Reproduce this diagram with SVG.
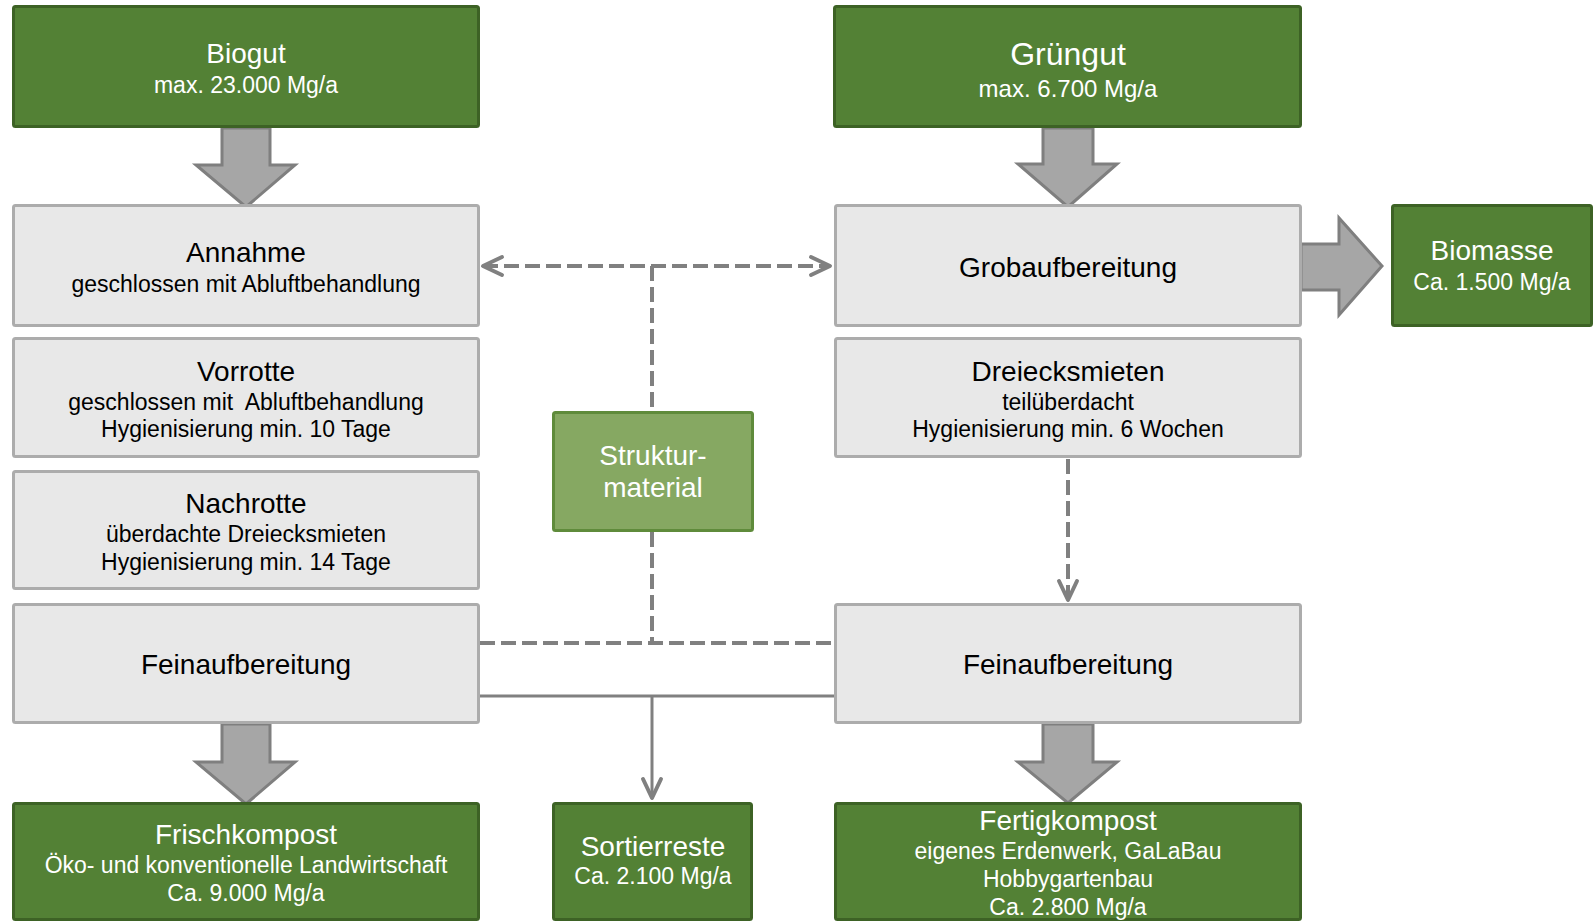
<svg xmlns="http://www.w3.org/2000/svg" width="1593" height="922" viewBox="0 0 1593 922">
<style>
.g{fill:#538135;stroke:#3d6225;stroke-width:3}
.l{fill:#86a862;stroke:#5f8b3b;stroke-width:3}
.p{fill:#e8e8e8;stroke:#acacac;stroke-width:3}
.big{fill:#a6a6a6;stroke:#7f7f7f;stroke-width:3;stroke-linejoin:miter}
text{font-family:"Liberation Sans",Arial,sans-serif;text-anchor:middle}
.w{fill:#ffffff}
.k{fill:#000000}
.t{font-size:28px}
.s{font-size:23px}
.dash{fill:none;stroke:#808080;stroke-width:4;stroke-dasharray:15 6}
.sol{fill:none;stroke:#808080;stroke-width:3}
</style>
<defs>
<marker id="ah" markerUnits="userSpaceOnUse" viewBox="-24 -12 28 24" refX="0" refY="0" markerWidth="28" markerHeight="24" orient="auto-start-reverse">
<path d="M-19 -9 L0 0 L-19 9" fill="none" stroke="#808080" stroke-width="4" stroke-linecap="round" stroke-linejoin="round"/>
</marker>
</defs>
<rect width="1593" height="922" fill="#ffffff"/>

<g id="connectors">
<polygon class="big" points="222,128 270,128 270,165 295,165 246,207 196,165 222,165"/>
<polygon class="big" points="1043,128 1093,128 1093,164 1117,164 1068,207 1018,164 1043,164"/>
<polygon class="big" points="222,724 270,724 270,762 295,762 246,804 196,762 222,762"/>
<polygon class="big" points="1043,724 1093,724 1093,762 1117,762 1068,803 1018,762 1043,762"/>
<polygon class="big" points="1301,244 1339,244 1339,218 1382,266 1339,315 1339,290 1301,290"/>
<path class="dash" d="M483 266 H830" marker-start="url(#ah)" marker-end="url(#ah)"/>
<path class="dash" d="M652 266 V411"/>
<path class="dash" d="M652 532 V643"/>
<path class="dash" d="M480 643 H834"/>
<path class="dash" d="M1068 459 V600" marker-end="url(#ah)"/>
<path class="sol" d="M480 696 H834"/>
<path class="sol" d="M652 696 V798" marker-end="url(#ah)"/>
</g>

<g id="biogut">
<rect class="g" x="13.5" y="6.5" width="465" height="120" rx="2"/>
<text class="w t" x="246" y="63">Biogut</text>
<text class="w s" x="246" y="93">max. 23.000 Mg/a</text>
</g>
<g id="gruengut">
<rect class="g" x="834.5" y="6.5" width="466" height="120" rx="2"/>
<text class="w" x="1068" y="65" font-size="32">Grüngut</text>
<text class="w" x="1068" y="97" font-size="24">max. 6.700 Mg/a</text>
</g>
<g id="annahme">
<rect class="p" x="13.5" y="205.5" width="465" height="120" rx="2"/>
<text class="k t" x="246" y="262">Annahme</text>
<text class="k s" x="246" y="292">geschlossen mit Abluftbehandlung</text>
</g>
<g id="vorrotte">
<rect class="p" x="13.5" y="338.5" width="465" height="118" rx="2"/>
<text class="k t" x="246" y="381">Vorrotte</text>
<text class="k s" x="246" y="410" xml:space="preserve">geschlossen mit  Abluftbehandlung</text>
<text class="k s" x="246" y="437">Hygienisierung min. 10 Tage</text>
</g>
<g id="nachrotte">
<rect class="p" x="13.5" y="471.5" width="465" height="117" rx="2"/>
<text class="k t" x="246" y="513">Nachrotte</text>
<text class="k s" x="246" y="542">überdachte Dreiecksmieten</text>
<text class="k s" x="246" y="570">Hygienisierung min. 14 Tage</text>
</g>
<g id="feinaufbereitung-links">
<rect class="p" x="13.5" y="604.5" width="465" height="118" rx="2"/>
<text class="k t" x="246" y="674">Feinaufbereitung</text>
</g>
<g id="frischkompost">
<rect class="g" x="13.5" y="803.5" width="465" height="116" rx="2"/>
<text class="w t" x="246" y="844">Frischkompost</text>
<text class="w s" x="246" y="873">Öko- und konventionelle Landwirtschaft</text>
<text class="w s" x="246" y="901">Ca. 9.000 Mg/a</text>
</g>
<g id="strukturmaterial">
<rect class="l" x="553.5" y="412.5" width="199" height="118" rx="2"/>
<text class="w t" x="653" y="465">Struktur-</text>
<text class="w t" x="653" y="497">material</text>
</g>
<g id="sortierreste">
<rect class="g" x="553.5" y="803.5" width="198" height="116" rx="2"/>
<text class="w t" x="653" y="856">Sortierreste</text>
<text class="w s" x="653" y="884">Ca. 2.100 Mg/a</text>
</g>
<g id="grobaufbereitung">
<rect class="p" x="835.5" y="205.5" width="465" height="120" rx="2"/>
<text class="k t" x="1068" y="277">Grobaufbereitung</text>
</g>
<g id="dreiecksmieten">
<rect class="p" x="835.5" y="338.5" width="465" height="118" rx="2"/>
<text class="k t" x="1068" y="381">Dreiecksmieten</text>
<text class="k s" x="1068" y="410">teilüberdacht</text>
<text class="k s" x="1068" y="437">Hygienisierung min. 6 Wochen</text>
</g>
<g id="feinaufbereitung-rechts">
<rect class="p" x="835.5" y="604.5" width="465" height="118" rx="2"/>
<text class="k t" x="1068" y="674">Feinaufbereitung</text>
</g>
<g id="fertigkompost">
<rect class="g" x="835.5" y="803.5" width="465" height="116" rx="2"/>
<text class="w t" x="1068" y="830">Fertigkompost</text>
<text class="w s" x="1068" y="859">eigenes Erdenwerk, GaLaBau</text>
<text class="w s" x="1068" y="887">Hobbygartenbau</text>
<text class="w s" x="1068" y="915">Ca. 2.800 Mg/a</text>
</g>
<g id="biomasse">
<rect class="g" x="1392.5" y="205.5" width="199" height="120" rx="2"/>
<text class="w t" x="1492" y="260">Biomasse</text>
<text class="w s" x="1492" y="290">Ca. 1.500 Mg/a</text>
</g>
</svg>
